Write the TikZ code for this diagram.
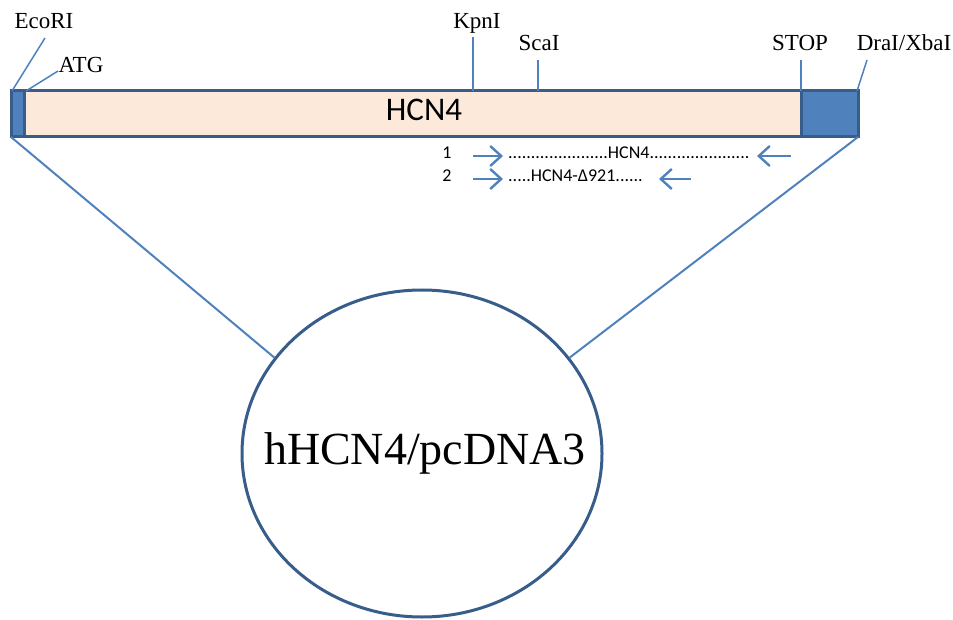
\documentclass[tikz,border=0pt]{standalone}
\usepackage{fontspec}
\setmainfont{Liberation Serif}
\newfontfamily\calfont{Carlito}
\usetikzlibrary{shapes.geometric,arrows.meta}
\definecolor{dkblue}{HTML}{385D8A}
\definecolor{midblue}{HTML}{4F81BD}
\definecolor{peach}{HTML}{FDE9D9}
\tikzset{
  lab/.style={anchor=base, inner sep=0pt, font=\fontsize{23}{26}\selectfont},
  tick/.style={draw=midblue, line width=1.5pt},
  zoomline/.style={draw=midblue, line width=2pt},
  primer/.style={draw=midblue, line width=2.2pt, -{Straight Barb[length=11pt,width=20pt,line width=2.4pt]}},
  small/.style={anchor=base west, inner sep=0pt, font=\calfont\fontsize{18}{20}\selectfont},
}
\begin{document}
\begin{tikzpicture}[x=1pt,y=-1pt]
\useasboundingbox (0,0) rectangle (953,620);
% bar
\coordinate (barTL) at (11,91);
\coordinate (barBR) at (858,137);
\coordinate (barBL) at (11,137);
\coordinate (barTR) at (858,91);
\fill[peach] (barTL) rectangle (barBR);
\fill[midblue] (11,91) rectangle (24,137);
\fill[midblue] (801,91) rectangle (858,137);
\draw[dkblue, line width=3pt] (24,91) -- (24,137);
\draw[dkblue, line width=3pt] (801,91) -- (801,137);
\draw[dkblue, line width=3pt] (barTL) rectangle (barBR);
\node[anchor=base, inner sep=0pt, font=\calfont\fontsize{33}{36}\selectfont] (hcn) at (424,121) {HCN4};
% labels
\node[lab] (ecori) at (44,29) {EcoRI};
\node[lab] (atg) at (81,73) {ATG};
\node[lab] (kpn) at (477,29) {KpnI};
\node[lab] (sca) at (539,51) {ScaI};
\node[lab] (stop) at (800,51) {STOP};
\node[lab] (dra) at (904,51) {DraI/XbaI};
\coordinate (ecoriT) at (45,38);  \coordinate (ecoriB) at (12,91);
\coordinate (atgT) at (58,71);    \coordinate (atgB) at (26,91);
\coordinate (kpnT) at (473,37);   \coordinate (kpnB) at (473,91);
\coordinate (scaT) at (538,60);   \coordinate (scaB) at (538,91);
\coordinate (stopT) at (801,60);  \coordinate (stopB) at (801,91);
\coordinate (draT) at (867,60);   \coordinate (draB) at (857,91);
\draw[tick] (ecoriT) -- (ecoriB);
\draw[tick] (atgT) -- (atgB);
\draw[tick] (kpnT) -- (kpnB);
\draw[tick] (scaT) -- (scaB);
\draw[tick] (stopT) -- (stopB);
\draw[tick] (draT) -- (draB);
% primers
\node[small, anchor=base] (n1) at (447,159) {1};
\node[small, anchor=base] (n2) at (447,182) {2};
\node[small] (p1) at (508,159) {......................HCN4......................};
\node[small] (p2) at (508,182) {.....HCN4-Δ921......};
\coordinate (a1s) at (473,156); \coordinate (a1e) at (503,156);
\coordinate (b1s) at (791,156); \coordinate (b1e) at (757,156);
\coordinate (a2s) at (473,179); \coordinate (a2e) at (503,179);
\coordinate (b2s) at (691,179); \coordinate (b2e) at (659,179);
\draw[primer] (a1s) -- (a1e);
\draw[primer] (b1s) -- (b1e);
\draw[primer] (a2s) -- (a2e);
\draw[primer] (b2s) -- (b2e);
% plasmid
\node[ellipse, draw=dkblue, line width=3pt, fill=white, minimum width=360pt, minimum height=327pt, inner sep=0pt] (plasmid) at (422,453.5) {};
\node[anchor=base, inner sep=0pt, font=\fontsize{46}{52}\selectfont] (ptext) at (425,464) {hHCN4/pcDNA3};
\draw[zoomline] (barBL) -- (plasmid.147);
\draw[zoomline] (barBR) -- (plasmid.33);
\end{tikzpicture}
\end{document}
